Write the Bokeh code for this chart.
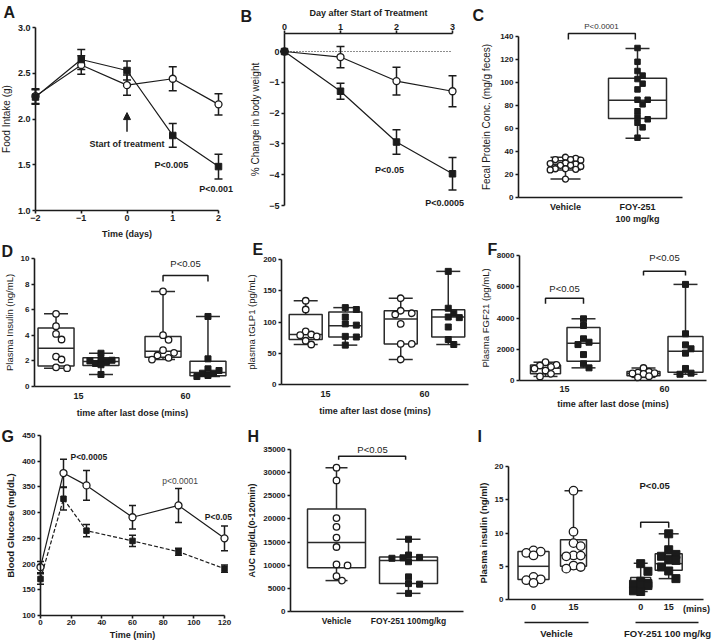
from bokeh.plotting import figure
from bokeh.models import Range1d, LinearAxis, FixedTicker, NumeralTickFormatter, Arrow, NormalHead
from bokeh.layouts import row, column
from bokeh.embed import file_html
from bokeh.resources import INLINE
from bokeh.core.properties import value

FONT = "Liberation Sans"
INK = "#1b1b1b"

# ======================= DATA =======================
# A: food intake (g)
a_days = [-2, -1, 0, 1, 2]
a_vehicle = [2.25, 2.59, 2.37, 2.44, 2.16]
a_vehicle_sem = [0.08, 0.10, 0.11, 0.13, 0.115]
a_foy = [2.24, 2.65, 2.53, 1.82, 1.48]
a_foy_sem = [0.08, 0.11, 0.105, 0.13, 0.135]
a_yticks = [1.0, 1.5, 2.0, 2.5, 3.0]

# B: % change in body weight
b_days = [0, 1, 2, 3]
b_vehicle = [0.0, -0.18, -0.96, -1.29]
b_vehicle_sem = [0.0, 0.345, 0.45, 0.50]
b_foy = [0.0, -1.29, -2.94, -3.97]
b_foy_sem = [0.0, 0.26, 0.40, 0.53]
b_yticks = [-5, -4, -3, -2, -1, 0]

# C: fecal protein
c_labels = ["Vehicle", "FOY-251\n100 mg/kg"]
c_vehicle = [35, 34, 33, 33, 32.5, 30, 29.5, 29, 28, 28, 27, 25, 25, 24.5, 24, 16]
c_foy = [130, 118, 110, 106, 103, 99, 94, 85, 85, 81, 75, 70, 68, 65, 61, 52]
c_q1 = [24.0, 68.7]
c_med = [29.0, 84.6]
c_q3 = [32.0, 103.8]
c_lo = [16.0, 51.5]
c_hi = [35.0, 129.6]
c_yticks = [0, 20, 40, 60, 80, 100, 120, 140]

# D: plasma insulin (ng/mL); boxes: veh15, foy15, veh60, foy60
time_labels = ["15", "60"]
d_veh15 = [5.68, 4.71, 4.11, 3.67, 2.34, 2.11, 1.50, 1.43]
d_foy15 = [2.60, 2.10, 2.05, 2.00, 1.95, 1.80, 1.70, 0.94]
d_veh60 = [7.43, 4.01, 3.65, 2.84, 2.63, 2.42, 2.24, 2.10]
d_foy60 = [5.47, 2.16, 1.38, 1.25, 1.04, 1.04, 0.86, 0.78]
d_q1 = [1.61, 1.64, 2.29, 0.84]
d_med = [2.99, 1.95, 2.76, 1.10]
d_q3 = [4.58, 2.24, 3.90, 1.98]
d_lo = [1.43, 0.94, 2.10, 0.78]
d_hi = [5.68, 2.60, 7.43, 5.47]
d_yticks = [0, 2, 4, 6, 8, 10]

# E: plasma tGLP1 (pg/mL)
e_veh15 = [134, 120, 85, 80, 79, 77, 70, 64]
e_foy15 = [123, 120, 108, 97, 95, 77, 76, 63]
e_veh60 = [138, 118, 114, 112, 97, 65, 65, 40]
e_foy60 = [181, 122, 114, 108, 107, 92, 72, 64]
e_q1 = [72, 76, 65, 76]
e_med = [80, 94, 105, 108]
e_q3 = [112, 116, 118, 119.5]
e_lo = [64, 63, 40, 64]
e_hi = [134, 123, 138, 181]
e_yticks = [0, 50, 100, 150, 200]

# F: plasma FGF21 (pg/mL)
f_veh15 = [1170, 1000, 960, 870, 760, 640, 430, 260]
f_foy15 = [3950, 3520, 2670, 2450, 2300, 1660, 1070, 810]
f_veh60 = [800, 560, 500, 470, 450, 420, 280, 200]
f_foy60 = [6150, 2990, 2280, 2030, 1750, 770, 470, 400]
f_q1 = [430, 1240, 300, 530]
f_med = [790, 2390, 450, 1880]
f_q3 = [1000, 3390, 580, 2820]
f_lo = [260, 810, 200, 400]
f_hi = [1170, 3950, 800, 6150]
f_yticks = [0, 2000, 4000, 6000, 8000]

# G: blood glucose (mg/dL)
g_time = [0, 15, 30, 60, 90, 120]
g_vehicle = [194, 377, 353, 291, 314, 250]
g_vehicle_sem = [11, 27, 29, 23, 33, 24]
g_foy = [171, 327, 265, 245, 224, 191]
g_foy_sem = [10, 22, 12, 11, 7, 7]
g_xticks = [0, 20, 40, 60, 80, 100, 120]
g_yticks = [100, 150, 200, 250, 300, 350, 400, 450]

# H: AUC
h_labels = ["Vehicle", "FOY-251 100mg/kg"]
h_vehicle = [31080, 28320, 20190, 18300, 15980, 13940, 10170, 9950, 7630, 6680]
h_foy = [15610, 12200, 11690, 11600, 11500, 10750, 7480, 6030, 5900, 3920]
h_q1 = [9440, 6030]
h_med = [14890, 11040]
h_q3 = [22150, 11760]
h_lo = [6680, 3920]
h_hi = [31080, 15610]
h_yticks = [0, 5000, 10000, 15000, 20000, 25000, 30000, 35000]

# I: plasma insulin (ng/ml); boxes: veh0, veh15, foy0, foy15
i_ticklabels = ["0", "15", "0", "15"]
i_groups = ["Vehicle", "FOY-251 100 mg/kg"]
i_veh0 = [7.38, 7.20, 7.00, 6.63, 3.39, 3.04, 2.90, 2.49]
i_veh15 = [16.36, 10.20, 8.48, 8.03, 6.63, 6.60, 6.50, 5.10, 4.89, 4.64]
i_foy0 = [5.39, 4.24, 2.74, 2.40, 2.30, 2.20, 2.10, 1.30, 1.20]
i_foy15 = [9.88, 7.48, 6.78, 6.50, 6.00, 5.88, 4.89, 4.29, 3.14]
i_q1 = [2.99, 4.99, 1.90, 4.39]
i_med = [4.99, 6.63, 2.24, 5.39]
i_q3 = [7.23, 8.98, 3.29, 6.88]
i_lo = [2.49, 4.60, 1.20, 3.14]
i_hi = [7.38, 16.36, 5.45, 9.88]
i_yticks = [0, 5, 10, 15, 20]

# ======================= LAYOUT HELPERS =======================
COLX = [0, 240, 470]
COLW = [240, 230, 245]
ROWY = [0, 240, 420]
ROWH = [240, 180, 223]


class Panel:
    """A figure whose frame fills the whole canvas; data<->page pixel calibration."""

    def __init__(self, col, rw, xa, ya):
        self.ox, self.oy = COLX[col], ROWY[rw]
        W, H = COLW[col], ROWH[rw]
        xd1, xr1, xd2, xr2 = xa
        yd1, yr1, yd2, yr2 = ya
        self.sx = (xr2 - xr1) / (xd2 - xd1)
        self.sy = (yr2 - yr1) / (yd1 - yd2)
        self.x0 = xd1 - (xr1 - self.ox) / self.sx
        self.yt = yd1 + (yr1 - self.oy) / self.sy
        p = figure(width=W, height=H,
                   x_range=Range1d(self.x0, self.x0 + W / self.sx),
                   y_range=Range1d(self.yt - H / self.sy, self.yt),
                   x_axis_type=None, y_axis_type=None, tools="",
                   output_backend="svg", toolbar_location=None, min_border=0)
        p.outline_line_color = None
        p.background_fill_color = "white"
        p.border_fill_color = "white"
        self.p = p

    def X(self, rx):
        return self.x0 + (rx - self.ox) / self.sx

    def Y(self, ry):
        return self.yt - (ry - self.oy) / self.sy


def make_axis(P, side, loc, ticks, bounds, label="", overrides=None, fmt=None,
              tick_out=3, tick_standoff=2, label_standoff=3, tick_size="8px",
              label_size="9px", label_bold=False):
    ax = LinearAxis(fixed_location=loc, ticker=FixedTicker(ticks=ticks), bounds=bounds)
    if label:
        ax.axis_label = label
    if fmt:
        ax.formatter = NumeralTickFormatter(format=fmt)
    if overrides:
        ax.major_label_overrides = overrides
    ax.axis_line_color = INK
    ax.axis_line_width = 1.6
    ax.major_tick_line_color = INK
    ax.major_tick_line_width = 1.6
    ax.major_tick_out = tick_out
    ax.major_tick_in = 0
    ax.minor_tick_out = 0
    ax.minor_tick_in = 0
    ax.major_label_text_font = FONT
    ax.major_label_text_font_size = tick_size
    ax.major_label_text_font_style = "bold"
    ax.major_label_text_color = INK
    ax.major_label_standoff = tick_standoff
    ax.axis_label_text_font = FONT
    ax.axis_label_text_font_size = label_size
    ax.axis_label_text_font_style = "bold" if label_bold else "normal"
    ax.axis_label_text_color = INK
    ax.axis_label_standoff = label_standoff
    P.p.add_layout(ax, side)
    return ax


def txt(P, x, y, s, size="9px", bold=False, align="center", baseline="middle", color=INK):
    P.p.text(x=[x], y=[y], text=[s], text_font=value(FONT), text_font_size=value(size),
             text_font_style="bold" if bold else "normal", text_align=align,
             text_baseline=baseline, text_color=color)


def letter(P, rx, ry, s):
    txt(P, P.X(max(rx, P.ox)), P.Y(max(ry, P.oy)), s, size="16px", bold=True,
        align="left", baseline="top")


def errbars(P, xs, ys, es, cap_px=8, lw=1.5):
    lo = [y - e for y, e in zip(ys, es)]
    hi = [y + e for y, e in zip(ys, es)]
    half = cap_px / 2 / P.sx
    P.p.segment(x0=xs, y0=lo, x1=xs, y1=hi, line_color=INK, line_width=lw)
    P.p.segment(x0=[x - half for x in xs] * 2, y0=lo + hi,
                x1=[x + half for x in xs] * 2, y1=lo + hi, line_color=INK, line_width=lw)


def bracket(P, x1, x2, ytop, ybot, lw=1.5):
    P.p.multi_line(xs=[[x1, x1, x2, x2]], ys=[[ybot, ytop, ytop, ybot]],
                   line_color=INK, line_width=lw)


def swarm(vals, P, size, max_px):
    order = sorted(range(len(vals)), key=lambda i: -vals[i])
    placed = []
    offs = [0.0] * len(vals)
    step = size * 0.85
    cands = [0.0]
    for j in range(1, 10):
        cands += [j * step, -j * step]
    cands = [c for c in cands if abs(c) <= max_px] or [0.0]
    for i in order:
        ypx = vals[i] * P.sy
        best, bestd = cands[0], -1
        for c in cands:
            d = min([((c - px) ** 2 + (ypx - py) ** 2) ** 0.5 for px, py in placed] or [1e9])
            if d >= size * 0.95:
                best = c
                break
            if d > bestd:
                best, bestd = c, d
        placed.append((best, ypx))
        offs[i] = best / P.sx
    return offs


def boxes(P, centers, width_px, cap_px, q1, med, q3, lo, hi, pts, kinds, msize, lw=1.5,
          spread_px=None):
    col = "#2a2a2a"
    for k, xc in enumerate(centers):
        w = width_px[k] / 2 / P.sx
        c = cap_px[k] / 2 / P.sx
        P.p.segment(x0=[xc, xc], y0=[q3[k], q1[k]], x1=[xc, xc], y1=[hi[k], lo[k]],
                    line_color=col, line_width=lw)
        P.p.segment(x0=[xc - c, xc - c], y0=[hi[k], lo[k]], x1=[xc + c, xc + c], y1=[hi[k], lo[k]],
                    line_color=col, line_width=lw)
        P.p.quad(left=[xc - w], right=[xc + w], bottom=[q1[k]], top=[q3[k]],
                 fill_color="white", line_color=col, line_width=lw)
        P.p.segment(x0=[xc - w], y0=[med[k]], x1=[xc + w], y1=[med[k]],
                    line_color=col, line_width=lw)
    for k, xc in enumerate(centers):
        mx = spread_px[k] if spread_px else width_px[k] / 2 - 3
        offs = swarm(pts[k], P, msize, mx)
        xs = [xc + o for o in offs]
        if kinds[k] == "o":
            P.p.scatter(xs, pts[k], marker="circle", size=msize, fill_color="white",
                        line_color=INK, line_width=1.3)
        else:
            P.p.scatter(xs, pts[k], marker="square", size=msize - 0.5, fill_color=INK,
                        line_color=INK, line_width=1)


def line_markers(P, xs, ys, kind, size, dash="solid"):
    P.p.line(xs, ys, line_color=INK, line_width=1.2, line_dash=dash)
    if kind == "o":
        P.p.scatter(xs, ys, marker="circle", size=size, fill_color="white", line_color=INK, line_width=1.3)
    else:
        P.p.scatter(xs, ys, marker="square", size=size, fill_color=INK, line_color=INK)


# ======================= PANEL A =======================
A = Panel(0, 0, (-2, 35, 2, 218), (3.0, 27, 1.0, 210))
make_axis(A, "left", -2, a_yticks, (1.0, 3.0), "Food Intake (g)", fmt="0.0", tick_size="9px",
          label_size="10px")
make_axis(A, "below", 1.0, a_days, (-2, 2), "Time (days)", label_bold=True, tick_size="9px",
          tick_standoff=1, label_standoff=5)
errbars(A, a_days, a_vehicle, a_vehicle_sem)
errbars(A, a_days, a_foy, a_foy_sem)
line_markers(A, a_days, a_vehicle, "o", 7)
line_markers(A, a_days, a_foy, "s", 6.5)
A.p.add_layout(Arrow(end=NormalHead(size=7, fill_color=INK, line_color=INK),
                     x_start=0, y_start=1.86, x_end=0, y_end=2.07, line_color=INK, line_width=1.5))
txt(A, 0, 1.73, "Start of treatment", bold=True)
txt(A, 0.97, 1.50, "P<0.005", bold=True)
txt(A, 1.95, 1.23, "P<0.001", bold=True)
letter(A, 3, 3, "A")

# ======================= PANEL B =======================
B = Panel(1, 0, (0, 284, 3, 452), (0, 51, -5, 205))
btop = B.Y(33)
make_axis(B, "left", 0, b_yticks, (-5, btop), "% Change in body weight", tick_size="9px",
          label_size="10px", label_standoff=5)
make_axis(B, "above", btop, b_days, (0, 3), "Day after Start of Treatment", label_bold=True,
          tick_size="9px", tick_standoff=1, label_standoff=3)
B.p.line([b_days[0], b_days[-1]], [0, 0], line_color=INK, line_width=1, line_dash="1 2")
errbars(B, b_days, b_vehicle, b_vehicle_sem)
errbars(B, b_days, b_foy, b_foy_sem)
line_markers(B, b_days, b_vehicle, "o", 7)
line_markers(B, b_days, b_foy, "s", 6.5)
txt(B, 1.875, -3.84, "P<0.05", bold=True)
txt(B, 2.86, -4.93, "P<0.0005", bold=True)
letter(B, 240, 7, "B")

# ======================= PANEL C =======================
C = Panel(2, 0, (0, 565, 1, 637), (140, 36, 0, 197))
make_axis(C, "left", C.X(518), c_yticks, (0, 140), "Fecal Protein Conc. (mg/g feces)",
          label_size="10px", label_standoff=5)
make_axis(C, "below", 0, [0, 1], (C.X(518), C.X(682)),
          overrides={0: c_labels[0], 1: c_labels[1]}, tick_out=0, tick_standoff=4,
          tick_size="9px")
boxes(C, [0, 1], [30, 58], [30, 24], c_q1, c_med, c_q3, c_lo, c_hi,
      [c_vehicle, c_foy], ["o", "s"], 6, spread_px=[18, 18])
bracket(C, 0.04, 0.97, 142.6, 137.4)
txt(C, 0.5, 148.5, "P<0.0001", size="8px", color="#333333")
letter(C, 472, 6, "C")

# ======================= PANEL D =======================
D = Panel(0, 1, (0, 78, 1, 185), (10, 258, 0, 386))
make_axis(D, "left", D.X(34), d_yticks, (0, 10), "Plasma Insulin (ng/mL)", label_size="9.5px")
make_axis(D, "below", 0, [0, 1], (D.X(34), D.X(230)), "time after last dose (mins)",
          overrides={0: time_labels[0], 1: time_labels[1]}, tick_out=0, tick_standoff=6,
          label_standoff=6, tick_size="9px", label_bold=True)
boxes(D, [-0.21, 0.21, 0.79, 1.21], [36] * 4, [24] * 4, d_q1, d_med, d_q3, d_lo, d_hi,
      [d_veh15, d_foy15, d_veh60, d_foy60], ["o", "s", "o", "s"], 6.5)
bracket(D, 0.79, 1.21, 8.67, 8.2)
txt(D, 1.0, 9.63, "P<0.05", size="9.5px")
letter(D, 1, 242, "D")

# ======================= PANEL E =======================
E = Panel(1, 1, (0, 325, 1, 424), (200, 259, 0, 384))
make_axis(E, "left", E.X(281), e_yticks, (0, 200), "plasma tGLP1 (pg/mL)", label_size="9.5px")
make_axis(E, "below", 0, [0, 1], (E.X(281), E.X(468)), "time after last dose (mins)",
          overrides={0: time_labels[0], 1: time_labels[1]}, tick_out=0, tick_standoff=6,
          label_standoff=6, tick_size="9px", label_bold=True)
boxes(E, [-0.2, 0.2, 0.76, 1.24], [33] * 4, [24] * 4, e_q1, e_med, e_q3, e_lo, e_hi,
      [e_veh15, e_foy15, e_veh60, e_foy60], ["o", "s", "o", "s"], 6.5)
letter(E, 252, 240, "E")

# ======================= PANEL F =======================
F = Panel(2, 1, (0, 564, 1, 664), (8000, 255, 0, 380))
make_axis(F, "left", F.X(519), f_yticks, (0, 8000), "Plasma FGF21 (pg/mL)", label_size="9.5px")
make_axis(F, "below", 0, [0, 1], (F.X(519), F.X(706)), "time after last dose (mins)",
          overrides={0: time_labels[0], 1: time_labels[1]}, tick_out=0, tick_standoff=5,
          label_standoff=4, tick_size="9px", label_bold=True)
boxes(F, [-0.19, 0.19, 0.79, 1.21], [30, 33, 33, 35], [24] * 4, f_q1, f_med, f_q3, f_lo, f_hi,
      [f_veh15, f_foy15, f_veh60, f_foy60], ["o", "s", "o", "s"], 6.5)
bracket(F, -0.19, 0.19, 5270, 4910)
txt(F, 0.0, 5910, "P<0.05", size="9.5px")
bracket(F, 0.79, 1.21, 7000, 6720)
txt(F, 1.0, 7890, "P<0.05", size="9.5px")
letter(F, 487, 240, "F")

# ======================= PANEL G =======================
G = Panel(0, 2, (0, 40, 120, 224), (450, 435, 100, 615))
make_axis(G, "left", 0, g_yticks, (100, 450), "Blood Glucose (mg/dL)", label_size="9.5px",
          label_bold=True)
make_axis(G, "below", 100, g_xticks, (0, 120), "Time (min)", tick_standoff=1,
          label_standoff=2, label_bold=True)
errbars(G, g_time, g_foy, g_foy_sem, cap_px=7)
errbars(G, g_time, g_vehicle, g_vehicle_sem, cap_px=7)
line_markers(G, g_time, g_foy, "s", 5.5, dash="4 2")
line_markers(G, g_time, g_vehicle, "o", 7)
txt(G, 31.5, 409, "P<0.0005", size="8.5px", bold=True)
txt(G, 91, 361, "p<0.0001", size="8.5px", color="#444444")
txt(G, 116, 292, "P<0.05", size="8.5px", bold=True)
letter(G, 1, 427, "G")

# ======================= PANEL H =======================
H = Panel(1, 2, (0, 336, 1, 408), (35000, 449, 0, 611))
make_axis(H, "left", H.X(290), h_yticks, (0, 35000), "AUC mg/dL(0-120min)", label_size="9px",
          label_bold=True)
make_axis(H, "below", 0, [0, 1], (H.X(290), H.X(463)),
          overrides={0: h_labels[0], 1: h_labels[1]}, tick_out=0, tick_standoff=4,
          tick_size="8.5px")
boxes(H, [0, 1], [58, 58], [22, 24], h_q1, h_med, h_q3, h_lo, h_hi,
      [h_vehicle, h_foy], ["o", "s"], 6.5)
bracket(H, 0.03, 0.96, 33550, 32770)
txt(H, 0.5, 35060, "P<0.05", size="9.5px")
letter(H, 247, 427, "H")

# ======================= PANEL I =======================
I = Panel(2, 2, (0, 533, 1, 573), (20, 466, 0, 599))
i_pos = [0, 1, 2.68, 3.38]
make_axis(I, "left", I.X(508), i_yticks, (0, 20), "Plasma insulin (ng/ml)", label_size="9.5px",
          label_bold=True)
make_axis(I, "below", 0, i_pos, (I.X(508), I.X(703)),
          overrides={i_pos[k]: i_ticklabels[k] for k in range(4)}, tick_out=0,
          tick_standoff=4, tick_size="9px")
txt(I, I.X(696), I.Y(608), "(mins)", size="9px", bold=True)
boxes(I, i_pos, [31, 26, 20, 27], [18, 18, 14, 20], i_q1, i_med, i_q3, i_lo, i_hi,
      [i_veh0, i_veh15, i_foy0, i_foy15], ["o", "o", "s", "s"], 8.5,
      spread_px=[14, 12, 12, 13])
bracket(I, 2.68, 3.38, 11.62, 10.78)
txt(I, 3.03, 17.1, "P<0.05", size="9.5px", bold=True)
I.p.segment(x0=[I.X(524), I.X(635)], y0=[I.Y(622)] * 2, x1=[I.X(588), I.X(698)],
            y1=[I.Y(622)] * 2, line_color=INK, line_width=1.5)
txt(I, I.X(556), I.Y(633), i_groups[0], size="9.5px", bold=True)
txt(I, I.X(667), I.Y(633), i_groups[1], size="9.5px", bold=True)
letter(I, 477, 427, "I")

layout = column(row(A.p, B.p, C.p), row(D.p, E.p, F.p), row(G.p, H.p, I.p))
open("out.html", "w").write(file_html(layout, INLINE, "Figure"))
